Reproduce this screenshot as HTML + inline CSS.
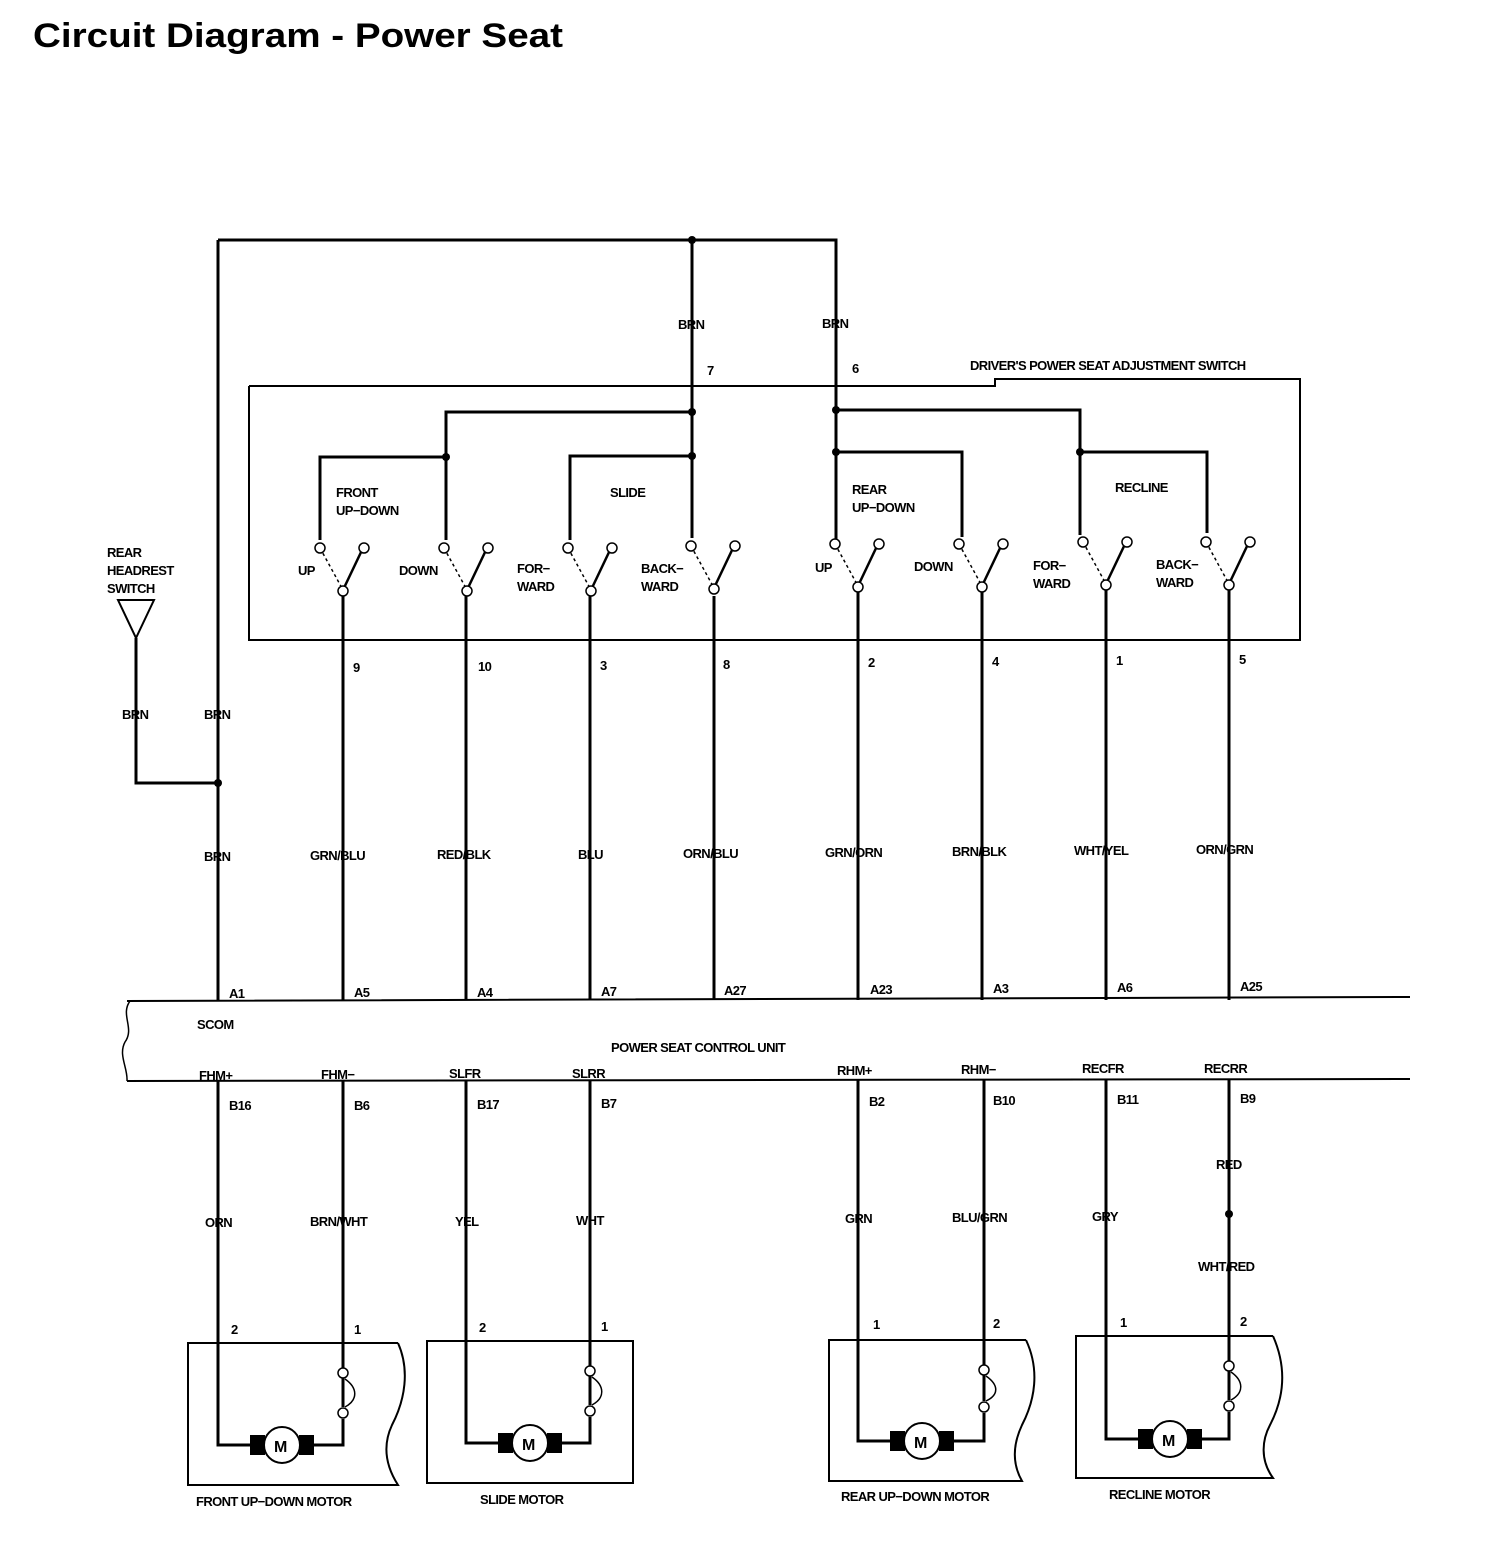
<!DOCTYPE html>
<html><head><meta charset="utf-8"><style>
html,body{margin:0;padding:0;background:#fff}
svg text{font-family:"Liberation Sans",sans-serif;font-weight:bold;fill:#000}
.l{font-size:13px;letter-spacing:-0.6px}
</style></head><body>
<svg width="1504" height="1544" viewBox="0 0 1504 1544" xmlns="http://www.w3.org/2000/svg">
<text x="33" y="47" style="font-size:34px" textLength="530" lengthAdjust="spacingAndGlyphs">Circuit Diagram - Power Seat</text>
<g stroke="#000" fill="none" stroke-width="3">
<path d="M218 240 H836 V540"/>
<path d="M218 240 V1000"/>
<path d="M692 240 V538"/>
<path d="M249 386 H995 V379 H1300 V640 H249 V386" stroke-width="2"/>
<path d="M446 540 V412 H692"/>
<path d="M320 540 V457 H446"/>
<path d="M570 540 V456 H692"/>
<path d="M836 410 H1080 V535"/>
<path d="M836 452 H962 V537"/>
<path d="M1080 452 H1207 V533"/>
<path d="M343 596 V1000 M466 596 V1000 M590 596 V1000 M714 596 V1000 M858 592 V1000 M982 592 V1000 M1106 588 V1000 M1229 588 V1000"/>
<path d="M136 638 V783 H218" stroke-width="3"/>
<path d="M118 600 H154 L136 638 Z" stroke-width="2"/>
<path d="M127 1001 L1410 997 M127 1081 L1410 1079" stroke-width="2"/>
<path d="M130 1001 C120 1015 135 1028 125 1042 C118 1055 128 1068 127 1081" stroke-width="1.5"/>
<path d="M218 1081 V1445 H252 M312 1445 H343 V1419 M343 1407 V1081"/>
<path d="M466 1081 V1443 H500 M560 1443 H590 V1417 M590 1405 V1081"/>
<path d="M858 1079 V1441 H892 M952 1441 H984 V1413 M984 1401 V1079"/>
<path d="M1106 1079 V1439 H1140 M1200 1439 H1229 V1412 M1229 1400 V1079"/>
<path d="M343 1379 V1367 M590 1377 V1365 M984 1376 V1364 M1229 1372 V1360"/>
<path d="M398 1343 H188 V1485 H398 C382 1460 385 1440 392 1425 C405 1400 410 1370 398 1343" stroke-width="2"/>
<path d="M633 1341 H427 V1483 H633 Z" stroke-width="2"/>
<path d="M1026 1340 H829 V1481 H1022 C1010 1460 1015 1440 1022 1425 C1035 1400 1040 1370 1026 1340" stroke-width="2"/>
<path d="M1273 1336 H1076 V1478 H1273 C1260 1460 1262 1440 1270 1425 C1283 1400 1288 1370 1273 1336" stroke-width="2"/>
<path d="M345 1379 C358 1388 358 1400 345 1407" stroke-width="1.5"/>
<path d="M592 1377 C605 1386 605 1398 592 1405" stroke-width="1.5"/>
<path d="M986 1376 C999 1385 999 1395 986 1401" stroke-width="1.5"/>
<path d="M1231 1372 C1244 1381 1244 1393 1231 1400" stroke-width="1.5"/>
</g>
<g stroke="#000" stroke-width="1.5" fill="#fff">
<g id="s"><line x1="320" y1="548" x2="343" y2="590" stroke-dasharray="3,3"/><line x1="343" y1="590" x2="363" y2="548" stroke-width="2.5"/><circle cx="320" cy="548" r="5"/><circle cx="364" cy="548" r="5"/><circle cx="343" cy="591" r="5"/></g>
<use href="#s" x="124" y="0"/>
<use href="#s" x="248" y="0"/>
<use href="#s" x="371" y="-2"/>
<use href="#s" x="515" y="-4"/>
<use href="#s" x="639" y="-4"/>
<use href="#s" x="763" y="-6"/>
<use href="#s" x="886" y="-6"/>
<circle cx="343" cy="1373" r="5"/><circle cx="343" cy="1413" r="5"/>
<circle cx="590" cy="1371" r="5"/><circle cx="590" cy="1411" r="5"/>
<circle cx="984" cy="1370" r="5"/><circle cx="984" cy="1407" r="5"/>
<circle cx="1229" cy="1366" r="5"/><circle cx="1229" cy="1406" r="5"/>
</g>
<g stroke="#000" stroke-width="2">
<rect x="251" y="1436" width="13" height="18" fill="#000"/><rect x="300" y="1436" width="13" height="18" fill="#000"/><circle cx="282" cy="1445" r="18" fill="#fff"/>
<rect x="499" y="1434" width="13" height="18" fill="#000"/><rect x="548" y="1434" width="13" height="18" fill="#000"/><circle cx="530" cy="1443" r="18" fill="#fff"/>
<rect x="891" y="1432" width="13" height="18" fill="#000"/><rect x="940" y="1432" width="13" height="18" fill="#000"/><circle cx="922" cy="1441" r="18" fill="#fff"/>
<rect x="1139" y="1430" width="13" height="18" fill="#000"/><rect x="1188" y="1430" width="13" height="18" fill="#000"/><circle cx="1170" cy="1439" r="18" fill="#fff"/>
</g>
<g fill="#000">
<circle cx="692" cy="240" r="4"/><circle cx="692" cy="412" r="4"/><circle cx="446" cy="457" r="4"/><circle cx="692" cy="456" r="4"/>
<circle cx="836" cy="410" r="4"/><circle cx="836" cy="452" r="4"/><circle cx="1080" cy="452" r="4"/><circle cx="218" cy="783" r="4"/><circle cx="1229" cy="1214" r="4"/>
</g>
<g class="l">
<text x="274" y="1452" style="font-size:16px">M</text><text x="522" y="1450" style="font-size:16px">M</text><text x="914" y="1448" style="font-size:16px">M</text><text x="1162" y="1446" style="font-size:16px">M</text>
<text x="678" y="329">BRN</text><text x="822" y="328">BRN</text>
<text x="707" y="375">7</text><text x="852" y="373">6</text>
<text x="970" y="370">DRIVER'S POWER SEAT ADJUSTMENT SWITCH</text>
<text x="336" y="497">FRONT</text><text x="336" y="515">UP−DOWN</text>
<text x="610" y="497">SLIDE</text>
<text x="852" y="494">REAR</text><text x="852" y="512">UP−DOWN</text>
<text x="1115" y="492">RECLINE</text>
<text x="298" y="575">UP</text><text x="399" y="575">DOWN</text>
<text x="517" y="573">FOR−</text><text x="517" y="591">WARD</text>
<text x="641" y="573">BACK−</text><text x="641" y="591">WARD</text>
<text x="815" y="572">UP</text><text x="914" y="571">DOWN</text>
<text x="1033" y="570">FOR−</text><text x="1033" y="588">WARD</text>
<text x="1156" y="569">BACK−</text><text x="1156" y="587">WARD</text>
<text x="353" y="672">9</text><text x="478" y="671">10</text><text x="600" y="670">3</text><text x="723" y="669">8</text>
<text x="868" y="667">2</text><text x="992" y="666">4</text><text x="1116" y="665">1</text><text x="1239" y="664">5</text>
<text x="107" y="557">REAR</text><text x="107" y="575">HEADREST</text><text x="107" y="593">SWITCH</text>
<text x="122" y="719">BRN</text><text x="204" y="719">BRN</text><text x="204" y="861">BRN</text>
<text x="310" y="860">GRN/BLU</text><text x="437" y="859">RED/BLK</text><text x="578" y="859">BLU</text><text x="683" y="858">ORN/BLU</text>
<text x="825" y="857">GRN/ORN</text><text x="952" y="856">BRN/BLK</text><text x="1074" y="855">WHT/YEL</text><text x="1196" y="854">ORN/GRN</text>
<text x="229" y="998">A1</text><text x="354" y="997">A5</text><text x="477" y="997">A4</text><text x="601" y="996">A7</text><text x="724" y="995">A27</text>
<text x="870" y="994">A23</text><text x="993" y="993">A3</text><text x="1117" y="992">A6</text><text x="1240" y="991">A25</text>
<text x="197" y="1029">SCOM</text>
<text x="611" y="1052">POWER SEAT CONTROL UNIT</text>
<text x="199" y="1080">FHM+</text><text x="321" y="1079">FHM−</text><text x="449" y="1078">SLFR</text><text x="572" y="1078">SLRR</text>
<text x="837" y="1075">RHM+</text><text x="961" y="1074">RHM−</text><text x="1082" y="1073">RECFR</text><text x="1204" y="1073">RECRR</text>
<text x="229" y="1110">B16</text><text x="354" y="1110">B6</text><text x="477" y="1109">B17</text><text x="601" y="1108">B7</text>
<text x="869" y="1106">B2</text><text x="993" y="1105">B10</text><text x="1117" y="1104">B11</text><text x="1240" y="1103">B9</text>
<text x="205" y="1227">ORN</text><text x="310" y="1226">BRN/WHT</text><text x="455" y="1226">YEL</text><text x="576" y="1225">WHT</text>
<text x="845" y="1223">GRN</text><text x="952" y="1222">BLU/GRN</text><text x="1092" y="1221">GRY</text><text x="1216" y="1169">RED</text><text x="1198" y="1271">WHT/RED</text>
<text x="231" y="1334">2</text><text x="354" y="1334">1</text><text x="479" y="1332">2</text><text x="601" y="1331">1</text>
<text x="873" y="1329">1</text><text x="993" y="1328">2</text><text x="1120" y="1327">1</text><text x="1240" y="1326">2</text>
<text x="196" y="1506">FRONT UP−DOWN MOTOR</text><text x="480" y="1504">SLIDE MOTOR</text>
<text x="841" y="1501">REAR UP−DOWN MOTOR</text><text x="1109" y="1499">RECLINE MOTOR</text>
</g>
</svg>
</body></html>
